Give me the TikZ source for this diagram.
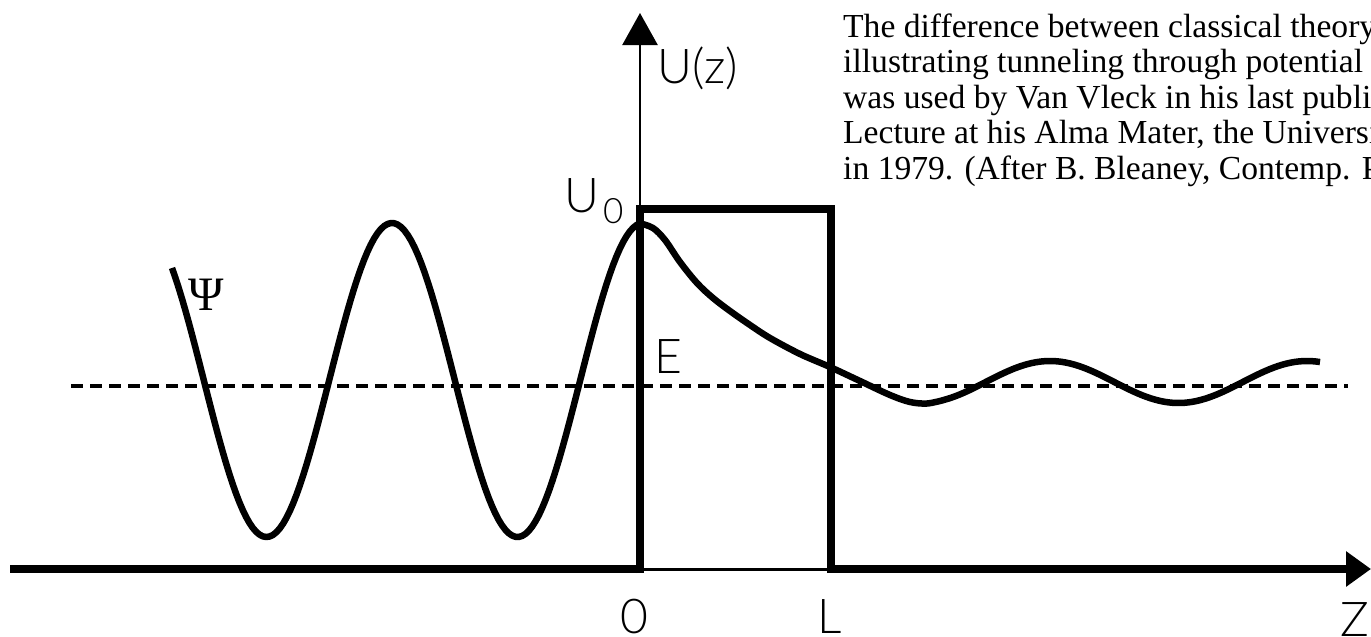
\documentclass[tikz,border=0pt]{standalone}
\usepackage{fontspec}
\setmainfont{Liberation Serif}
\newfontfamily\lblfont{Lato Light}
\usetikzlibrary{arrows.meta}
\begin{document}
\begin{tikzpicture}[x=1pt,y=-1pt,
  thickline/.style={line width=8pt},
  wave/.style={line width=6.5pt, line join=round},
  lbl/.style={font=\lblfont\fontsize{48}{48}\selectfont, inner sep=0pt, text depth=0pt},
  para/.style={font=\fontsize{33.6}{35.5}\selectfont, inner sep=0pt, anchor=base west}]
\clip (0,0) rectangle (1371,637);
\fill[white] (0,0) rectangle (1371,637);

% vertical axis
\draw[line width=2.5pt, -{Triangle[length=32pt,width=35pt]}] (640,569) -- (640,13);
% horizontal axis
\draw[line width=3pt] (640,569) -- (831,569);
\draw[thickline] (10,569) -- (644,569);
\draw[thickline, -{Triangle[length=25pt,width=34pt]}] (827,569) -- (1371,569);
% barrier
\draw[thickline, line join=miter] (640,573) -- (640,209) -- (831,209) -- (831,573);

% energy level
\draw[line width=3.5pt, dash pattern=on 12pt off 7pt] (71,386) -- (1348,386);

% wave function
\draw[wave] plot[domain=172:640, samples=140] (\x, {380-157*cos(((\x-392)/251)*360)})
  -- plot[smooth, tension=0.55] coordinates {(640,223.4) (653,228) (665,240) (680,262)
     (697,283) (713,298) (730,311) (750,325) (770,338) (800,354) (830,367) (860,381)
     (890,395) (910,402) (927,403.5) (943,400.2)}
  -- plot[domain=943:1320, samples=90] (\x, {382-21*cos(((\x-1050)/257)*360)});

% labels
\node[lbl, anchor=base west] (uz) at (657,83) {U(z)};
\node[lbl, anchor=base west] (u0) at (564,212) {U\hspace{4pt}\raisebox{-11pt}{\fontsize{35}{35}\selectfont 0}};
\node[lbl, anchor=base west] (e) at (654,373) {E};
\node[lbl, anchor=base] (zero) at (634,633) {0};
\node[lbl, anchor=base west] (l) at (817,633) {L};
\node[lbl, anchor=base west] (z) at (1340,636) {Z};
\node[inner sep=0pt, anchor=base, font=\fontsize{48}{48}\selectfont] (psi) at (206,310) {Ψ};

% caption text
\node[para] (t1) at (843,37) {The difference between classical theory};
\node[para] (t2) at (843,72.5) {illustrating tunneling through potential};
\node[para] (t3) at (843,108) {was used by Van Vleck in his last public};
\node[para] (t4) at (843,143.5) {Lecture at his Alma Mater, the Universit};
\node[para] (t5) at (843,179) {in 1979. (After B. Bleaney, Contemp. P};
\end{tikzpicture}
\end{document}
